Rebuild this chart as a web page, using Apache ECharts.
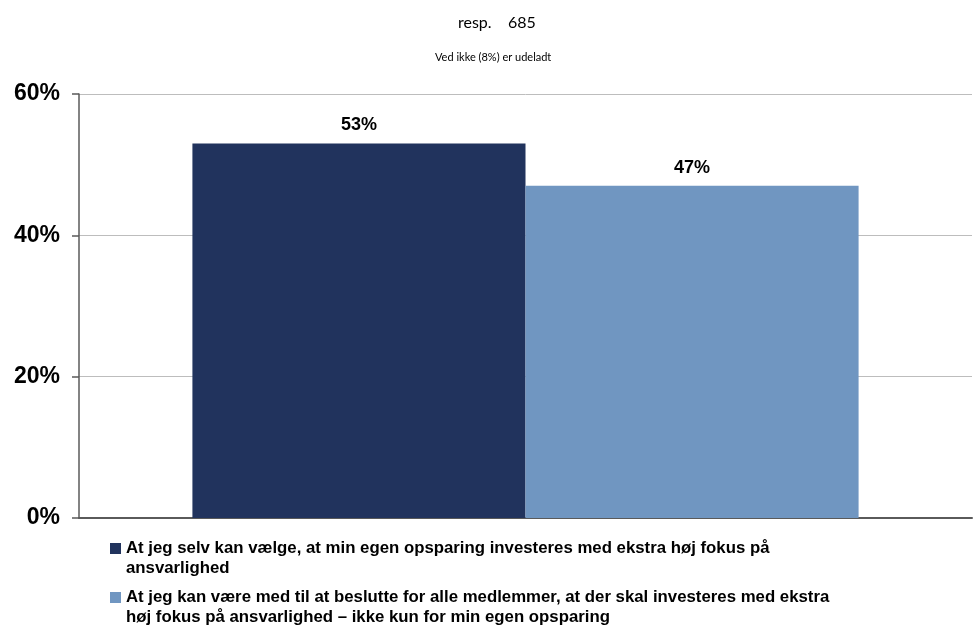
<!DOCTYPE html>
<html>
<head>
<meta charset="utf-8">
<script src="https://cdn.jsdelivr.net/npm/echarts@6/dist/echarts.min.js"></script>
<style>
  html, body { margin: 0; padding: 0; background: #ffffff; }
  #chart { width: 973px; height: 634px; }
</style>
</head>
<body>
<div id="chart"></div>
<script>
// data
const categories = [""]
const seriesNames = [
  "At jeg selv kan vælge, at min egen opsparing investeres med ekstra høj fokus på ansvarlighed",
  "At jeg kan være med til at beslutte for alle medlemmer, at der skal investeres med ekstra høj fokus på ansvarlighed – ikke kun for min egen opsparing"
]
const legendLines = [
  "At jeg selv kan vælge, at min egen opsparing investeres med ekstra høj fokus på\nansvarlighed",
  "At jeg kan være med til at beslutte for alle medlemmer, at der skal investeres med ekstra\nhøj fokus på ansvarlighed – ikke kun for min egen opsparing"
]
const values1 = [53]
const values2 = [47]
const colors = ["#21335D", "#7096C1"]

const chart = echarts.init(document.getElementById("chart"))

const labelStyle = {
  show: true,
  position: "top",
  distance: 9,
  formatter: "{c}%",
  fontFamily: "Liberation Sans, Arial, sans-serif",
  fontWeight: "bold",
  fontSize: 18,
  color: "#000"
}

// square sits on the first text line (tiny dot at the bottom stretches the icon box)
const squareIcon = "path://M0,0H11V11H0Z M0,29.99H0.01V30H0Z"

function legendFor(i, top) {
  return {
    orient: "vertical",
    left: 105,
    top: top,
    itemWidth: 11,
    itemHeight: 30,
    itemGap: 4,
    icon: squareIcon,
    selectedMode: false,
    data: [seriesNames[i]],
    formatter: name => legendLines[seriesNames.indexOf(name)],
    textStyle: {
      fontFamily: "Liberation Sans, Arial, sans-serif",
      fontWeight: "bold",
      fontSize: 16.8,
      lineHeight: 20,
      color: "#000"
    }
  }
}

chart.setOption({
  animation: false,
  color: colors,
  title: [
    {
      text: "resp.    685",
      left: 453,
      top: 10,
      textStyle: { fontFamily: "Lato, sans-serif", fontWeight: "normal", fontSize: 16, color: "#000" }
    },
    {
      text: "Ved ikke (8%) er udeladt",
      left: 430,
      top: 47,
      textStyle: { fontFamily: "Lato, sans-serif", fontWeight: "normal", fontSize: 11, color: "#000" }
    }
  ],
  grid: {
    left: 79,
    right: 1,
    top: 94,
    bottom: 116,
    containLabel: false
  },
  legend: [legendFor(0, 533), legendFor(1, 582)],
  xAxis: {
    type: "category",
    data: categories,
    axisLine: { lineStyle: { color: "#5a5a5a", width: 2 } },
    axisTick: { show: false },
    axisLabel: { show: false }
  },
  yAxis: {
    type: "value",
    min: 0,
    max: 60,
    interval: 20,
    axisLine: { show: true, lineStyle: { color: "#5a5a5a", width: 1.5 } },
    axisTick: { show: true, inside: false, length: 7, lineStyle: { color: "#5a5a5a", width: 1.5 } },
    axisLabel: {
      formatter: "{value}%",
      margin: 19,
      fontFamily: "Liberation Sans, Arial, sans-serif",
      fontWeight: "bold",
      fontSize: 23,
      color: "#000"
    },
    splitLine: { lineStyle: { color: "#bdbdbd", width: 1 } }
  },
  series: [
    {
      name: seriesNames[0],
      type: "bar",
      data: values1,
      barGap: "0%",
      barCategoryGap: "25.4%",
      label: labelStyle
    },
    {
      name: seriesNames[1],
      type: "bar",
      data: values2,
      barGap: "0%",
      barCategoryGap: "25.4%",
      label: labelStyle
    }
  ]
})
</script>
</body>
</html>
